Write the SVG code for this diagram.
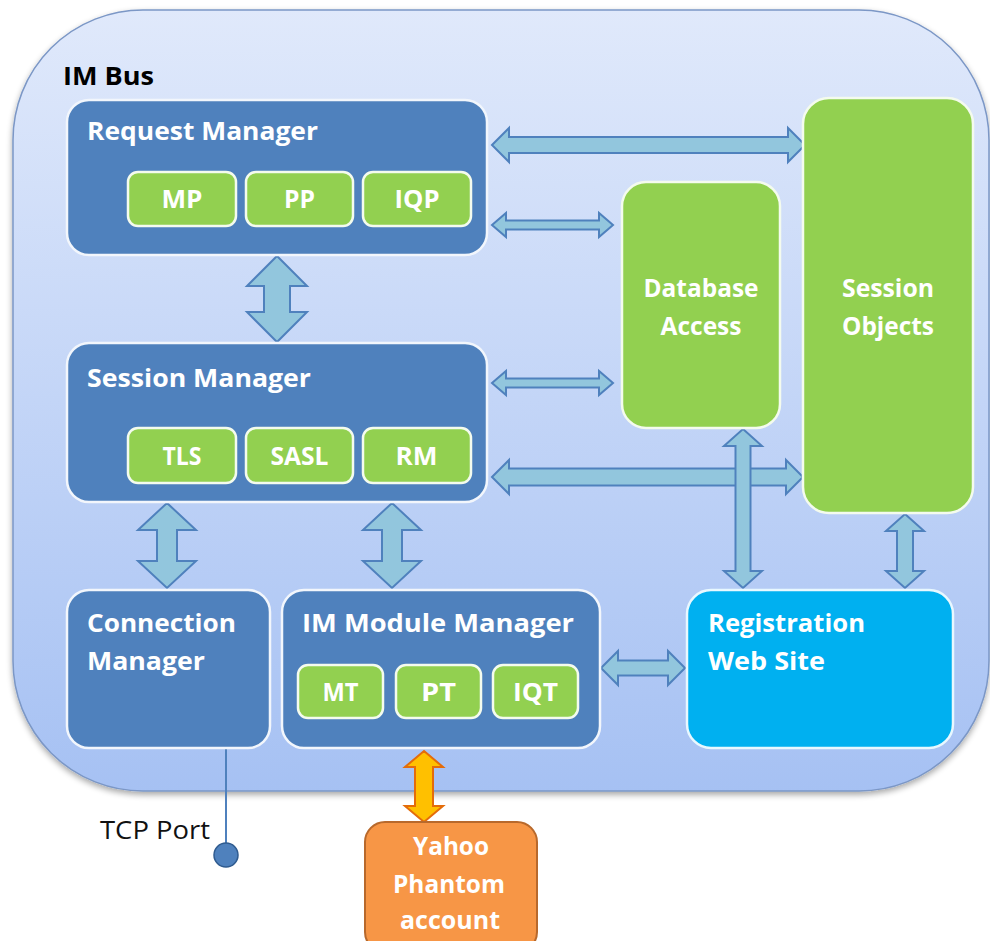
<svg xmlns="http://www.w3.org/2000/svg" width="990" height="941" viewBox="0 0 990 941">
  <defs>
    <linearGradient id="busFill" x1="0" y1="0" x2="0" y2="1">
      <stop offset="0" stop-color="#e0e9fb"/>
      <stop offset="1" stop-color="#a6c1f3"/>
    </linearGradient>
    <filter id="shadow" x="-5%" y="-5%" width="110%" height="110%">
      <feGaussianBlur in="SourceAlpha" stdDeviation="3"/>
      <feOffset dx="0" dy="3" result="b"/>
      <feComponentTransfer><feFuncA type="linear" slope="0.35"/></feComponentTransfer>
      <feMerge><feMergeNode/><feMergeNode in="SourceGraphic"/></feMerge>
    </filter>
    <style>
      .bus { fill: url(#busFill); stroke: #7b97c6; stroke-width: 1.5; }
      .blue { fill: #4f81bd; stroke: #f2f6fc; stroke-width: 2.5; }
      .green { fill: #92d050; stroke: #f4fbee; stroke-width: 2.5; }
      .sky { fill: #00b0f0; stroke: #e8f8ff; stroke-width: 2.5; }
      .orange { fill: #f79646; stroke: #b8692c; stroke-width: 2; }
      .arrow { fill: #92c6dd; stroke: #4f81bd; stroke-width: 2; stroke-linejoin: miter; }
      .arrowO { fill: #ffc000; stroke: #e46c0a; stroke-width: 2; }
      text { font-family: "Open Sans", "Liberation Sans", sans-serif; font-weight: bold; }
      .w { fill: #ffffff; font-size: 25px; }
      .c { text-anchor: middle; }
      .k { fill: #000000; font-size: 25px; }
      .port { fill: #111111; font-size: 26px; font-weight: normal; }
    </style>
  </defs>

  <!-- IM Bus container -->
  <g id="im-bus">
    <rect class="bus" x="13" y="10" width="976" height="781" rx="130" ry="130" filter="url(#shadow)"/>
    <text class="k" x="63" y="85" textLength="91" lengthAdjust="spacingAndGlyphs">IM Bus</text>
  </g>

  <!-- connectors -->
  <g id="connectors">
    <!-- Request Manager <-> Session Objects -->
    <path class="arrow" d="M492,145 L509,128 L509,137 L788,137 L788,128 L805,145 L788,162 L788,153 L509,153 L509,162 Z"/>
    <!-- Request Manager <-> Database Access -->
    <path class="arrow" d="M492,225 L506,213 L506,220.5 L599,220.5 L599,213 L613,225 L599,237 L599,229.5 L506,229.5 L506,237 Z"/>
    <!-- Session Manager <-> Database Access -->
    <path class="arrow" d="M492,383 L506,371 L506,378.5 L599,378.5 L599,371 L613,383 L599,395 L599,387.5 L506,387.5 L506,395 Z"/>
    <!-- Session Manager <-> Session Objects -->
    <path class="arrow" d="M492,477 L509,460 L509,468.5 L786,468.5 L786,460 L803,477 L786,494 L786,485.5 L509,485.5 L509,494 Z"/>
    <!-- Request Manager <-> Session Manager -->
    <path class="arrow" d="M277,256 L307,286 L290,286 L290,312 L307,312 L277,342 L247,312 L264,312 L264,286 L247,286 Z"/>
    <!-- Session Manager <-> Connection Manager -->
    <path class="arrow" d="M167,503 L196,530 L177,530 L177,561 L196,561 L167,588 L138,561 L157,561 L157,530 L138,530 Z"/>
    <!-- Session Manager <-> IM Module Manager -->
    <path class="arrow" d="M392,503 L421,530 L402,530 L402,561 L421,561 L392,588 L363,561 L382,561 L382,530 L363,530 Z"/>
    <!-- Database Access <-> Registration Web Site -->
    <path class="arrow" d="M743,429 L762,446 L750.5,446 L750.5,571 L762,571 L743,588 L724,571 L735.5,571 L735.5,446 L724,446 Z"/>
    <!-- Session Objects <-> Registration Web Site -->
    <path class="arrow" d="M905,514 L924,531 L913,531 L913,571 L924,571 L905,588 L886,571 L897,571 L897,531 L886,531 Z"/>
    <!-- IM Module Manager <-> Registration Web Site -->
    <path class="arrow" d="M601,668 L618,651 L618,660.5 L668,660.5 L668,651 L685,668 L668,685 L668,675.5 L618,675.5 L618,685 Z"/>
    <!-- IM Module Manager <-> Yahoo Phantom account -->
    <path class="arrowO" d="M424,751 L443,767 L433,767 L433,806 L443,806 L424,822 L405,806 L415,806 L415,767 L405,767 Z"/>
    <!-- TCP port line -->
    <line x1="226" y1="749" x2="226" y2="843" stroke="#4f81bd" stroke-width="2"/>
  </g>

  <g id="request-manager">
    <rect class="blue" x="67" y="100" width="420" height="155" rx="22"/>
    <text class="w" x="87" y="140" textLength="231" lengthAdjust="spacingAndGlyphs">Request Manager</text>
  </g>
  <g id="mp">
    <rect class="green" x="128" y="172" width="108" height="54" rx="10"/>
    <text class="w c" x="182" y="208" textLength="41" lengthAdjust="spacingAndGlyphs">MP</text>
  </g>
  <g id="pp">
    <rect class="green" x="246" y="172" width="107" height="54" rx="10"/>
    <text class="w c" x="299.5" y="208" textLength="31" lengthAdjust="spacingAndGlyphs">PP</text>
  </g>
  <g id="iqp">
    <rect class="green" x="363" y="172" width="108" height="54" rx="10"/>
    <text class="w c" x="417" y="208" textLength="45" lengthAdjust="spacingAndGlyphs">IQP</text>
  </g>

  <g id="session-manager">
    <rect class="blue" x="67" y="343" width="420" height="159" rx="22"/>
    <text class="w" x="87" y="387" textLength="224" lengthAdjust="spacingAndGlyphs">Session Manager</text>
  </g>
  <g id="tls">
    <rect class="green" x="128" y="428" width="108" height="55" rx="10"/>
    <text class="w c" x="182" y="465" textLength="39" lengthAdjust="spacingAndGlyphs">TLS</text>
  </g>
  <g id="sasl">
    <rect class="green" x="246" y="428" width="107" height="55" rx="10"/>
    <text class="w c" x="299.5" y="465" textLength="58" lengthAdjust="spacingAndGlyphs">SASL</text>
  </g>
  <g id="rm">
    <rect class="green" x="363" y="428" width="108" height="55" rx="10"/>
    <text class="w c" x="416.5" y="465" textLength="42" lengthAdjust="spacingAndGlyphs">RM</text>
  </g>

  <g id="database-access">
    <rect class="green" x="622" y="182" width="158" height="246" rx="24"/>
    <text class="w c" x="701" y="297" textLength="115" lengthAdjust="spacingAndGlyphs">Database</text>
    <text class="w c" x="701" y="335" textLength="81" lengthAdjust="spacingAndGlyphs">Access</text>
  </g>

  <g id="session-objects">
    <rect class="green" x="803" y="98" width="170" height="415" rx="26"/>
    <text class="w c" x="888" y="297" textLength="92" lengthAdjust="spacingAndGlyphs">Session</text>
    <text class="w c" x="888" y="335" textLength="92" lengthAdjust="spacingAndGlyphs">Objects</text>
  </g>

  <g id="connection-manager">
    <rect class="blue" x="67" y="590" width="203" height="158" rx="22"/>
    <text class="w" x="87" y="632" textLength="149" lengthAdjust="spacingAndGlyphs">Connection</text>
    <text class="w" x="87" y="670" textLength="118" lengthAdjust="spacingAndGlyphs">Manager</text>
  </g>

  <g id="im-module-manager">
    <rect class="blue" x="282" y="590" width="318" height="158" rx="22"/>
    <text class="w" x="302" y="632" textLength="272" lengthAdjust="spacingAndGlyphs">IM Module Manager</text>
  </g>
  <g id="mt">
    <rect class="green" x="298" y="665" width="85" height="53" rx="10"/>
    <text class="w c" x="340.5" y="701" textLength="36" lengthAdjust="spacingAndGlyphs">MT</text>
  </g>
  <g id="pt">
    <rect class="green" x="396" y="665" width="85" height="53" rx="10"/>
    <text class="w c" x="438.5" y="701" textLength="35" lengthAdjust="spacingAndGlyphs">PT</text>
  </g>
  <g id="iqt">
    <rect class="green" x="493" y="665" width="85" height="53" rx="10"/>
    <text class="w c" x="535.5" y="701" textLength="45" lengthAdjust="spacingAndGlyphs">IQT</text>
  </g>

  <g id="registration-web-site">
    <rect class="sky" x="687" y="590" width="266" height="158" rx="24"/>
    <text class="w" x="708" y="632" textLength="157" lengthAdjust="spacingAndGlyphs">Registration</text>
    <text class="w" x="708" y="670" textLength="117" lengthAdjust="spacingAndGlyphs">Web Site</text>
  </g>

  <g id="tcp-port">
    <circle cx="226" cy="855" r="12" fill="#4f81bd" stroke="#2f5b8f" stroke-width="1.5"/>
    <text class="port" x="100" y="839" textLength="110" lengthAdjust="spacingAndGlyphs">TCP Port</text>
  </g>

  <g id="yahoo-phantom-account">
    <rect class="orange" x="365" y="822" width="172" height="130" rx="20"/>
    <text class="w c" x="451" y="855" textLength="76" lengthAdjust="spacingAndGlyphs">Yahoo</text>
    <text class="w c" x="449" y="893" textLength="112" lengthAdjust="spacingAndGlyphs">Phantom</text>
    <text class="w c" x="450" y="929" textLength="100" lengthAdjust="spacingAndGlyphs">account</text>
  </g>
</svg>
